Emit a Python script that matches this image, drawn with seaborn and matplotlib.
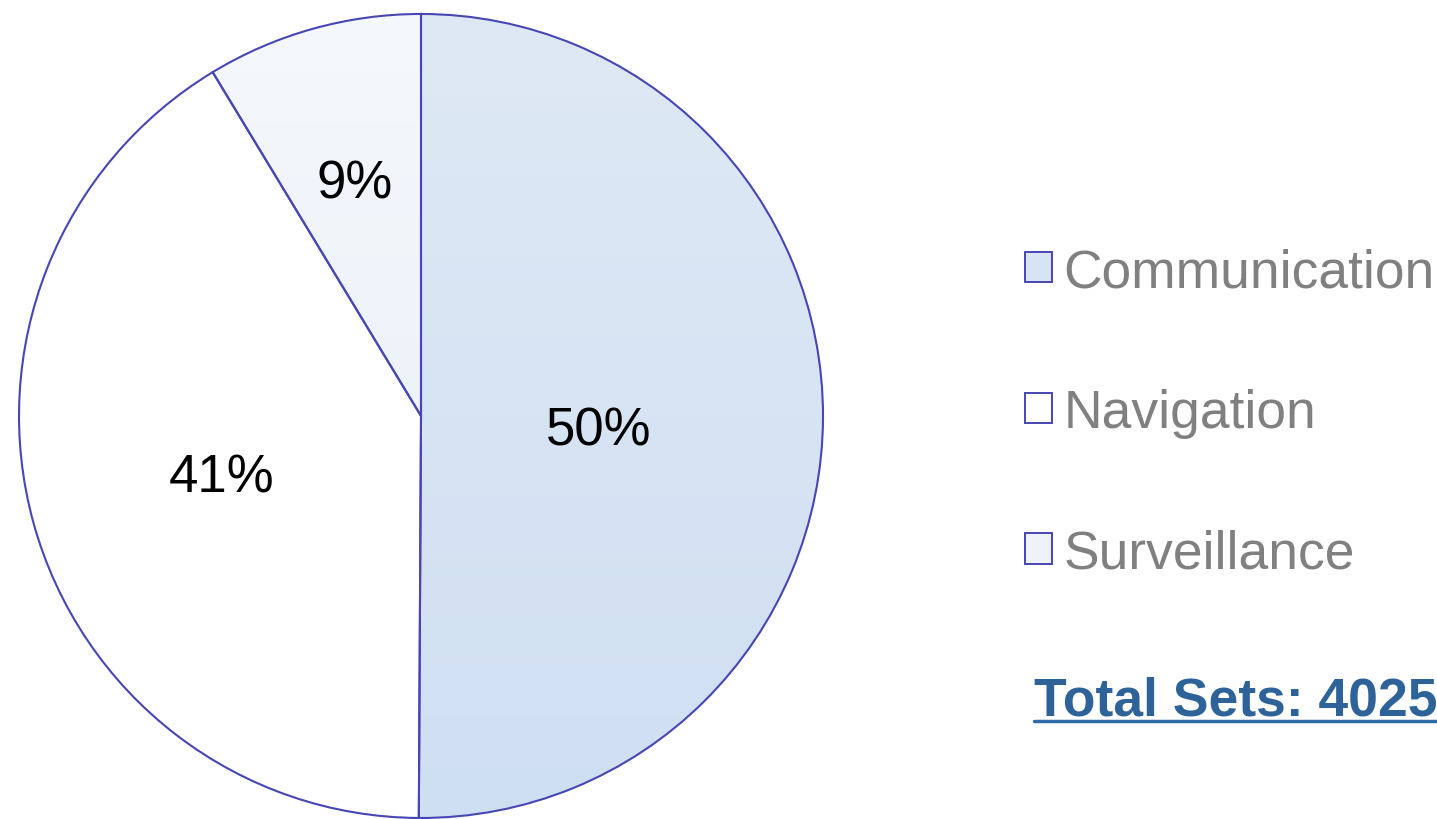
import numpy as np
import matplotlib
matplotlib.use("Agg")
import matplotlib.pyplot as plt
import seaborn as sns
from matplotlib.patches import Patch
from matplotlib.lines import Line2D
from matplotlib.colors import LinearSegmentedColormap

# data (total 4025 sets)
categories = ["Communication", "Navigation", "Surveillance"]
counts = [2016, 1660, 349]
total_sets = 4025

# slice fills: (top colour, bottom colour) of each vertical gradient
fills = [("#dfe9f5", "#cfdff2"), ("#ffffff", "#ffffff"), ("#f5f8fc", "#e6eef8")]
legend_fills = ["#d6e4f4", "#ffffff", "#eef3fa"]
edge = "#4646b4"

sns.set_style("white")
plt.rcParams["font.family"] = ["Liberation Sans", "DejaVu Sans"]

fig = plt.figure(figsize=(14.37, 8.2), dpi=100)
ax = fig.add_axes([0.01183, -0.0012, 0.5623, 0.9854])

wedges, texts, autotexts = ax.pie(
    counts, startangle=90, counterclock=False, radius=1,
    autopct=lambda p: f"{p:.0f}%", pctdistance=0.5,
    wedgeprops=dict(facecolor="none", edgecolor=edge, linewidth=1.5),
    textprops=dict(fontsize=38, color="black"))

# gradient fill clipped to each wedge
for w, (c_top, c_bot) in zip(wedges, fills):
    cmap = LinearSegmentedColormap.from_list("g", [c_bot, c_top])
    grad = np.linspace(0, 1, 256).reshape(-1, 1)
    im = ax.imshow(grad, cmap=cmap, extent=(-1, 1, -1, 1), origin="lower",
                   aspect="auto", zorder=0)
    im.set_clip_path(w)
ax.set_xlim(-1.005, 1.005)
ax.set_ylim(-1.005, 1.005)
ax.set_aspect("equal")
ax.axis("off")

# nudge the percentage labels
label_scale = [0.885, 1.03, 1.22]
label_dy = [-0.035, -0.015, -0.01]
for t, s, dy in zip(autotexts, label_scale, label_dy):
    x, y = t.get_position()
    t.set_position((x * s, y * s + dy))

handles = [Patch(facecolor=c, edgecolor=edge, linewidth=1.4) for c in legend_fills]
leg = fig.legend(handles, categories, loc="upper left",
                 bbox_to_anchor=(1025 / 1437, 1 - 248 / 820),
                 frameon=False, fontsize=38.4, labelcolor="#808080",
                 handlelength=0.5, handleheight=0.5, handletextpad=0.22,
                 labelspacing=1.7, borderaxespad=0, borderpad=0)

fig.text(1034 / 1437, 1 - 716 / 820, f"Total Sets: {total_sets}",
         fontsize=38.5, fontweight="bold", color="#2e6399", ha="left", va="baseline")
fig.add_artist(Line2D([1034 / 1437, 1437 / 1437], [1 - 722 / 820, 1 - 722 / 820],
                      transform=fig.transFigure, color="#2e6ca8", linewidth=2.5))

fig.savefig("out.png", dpi=100)
